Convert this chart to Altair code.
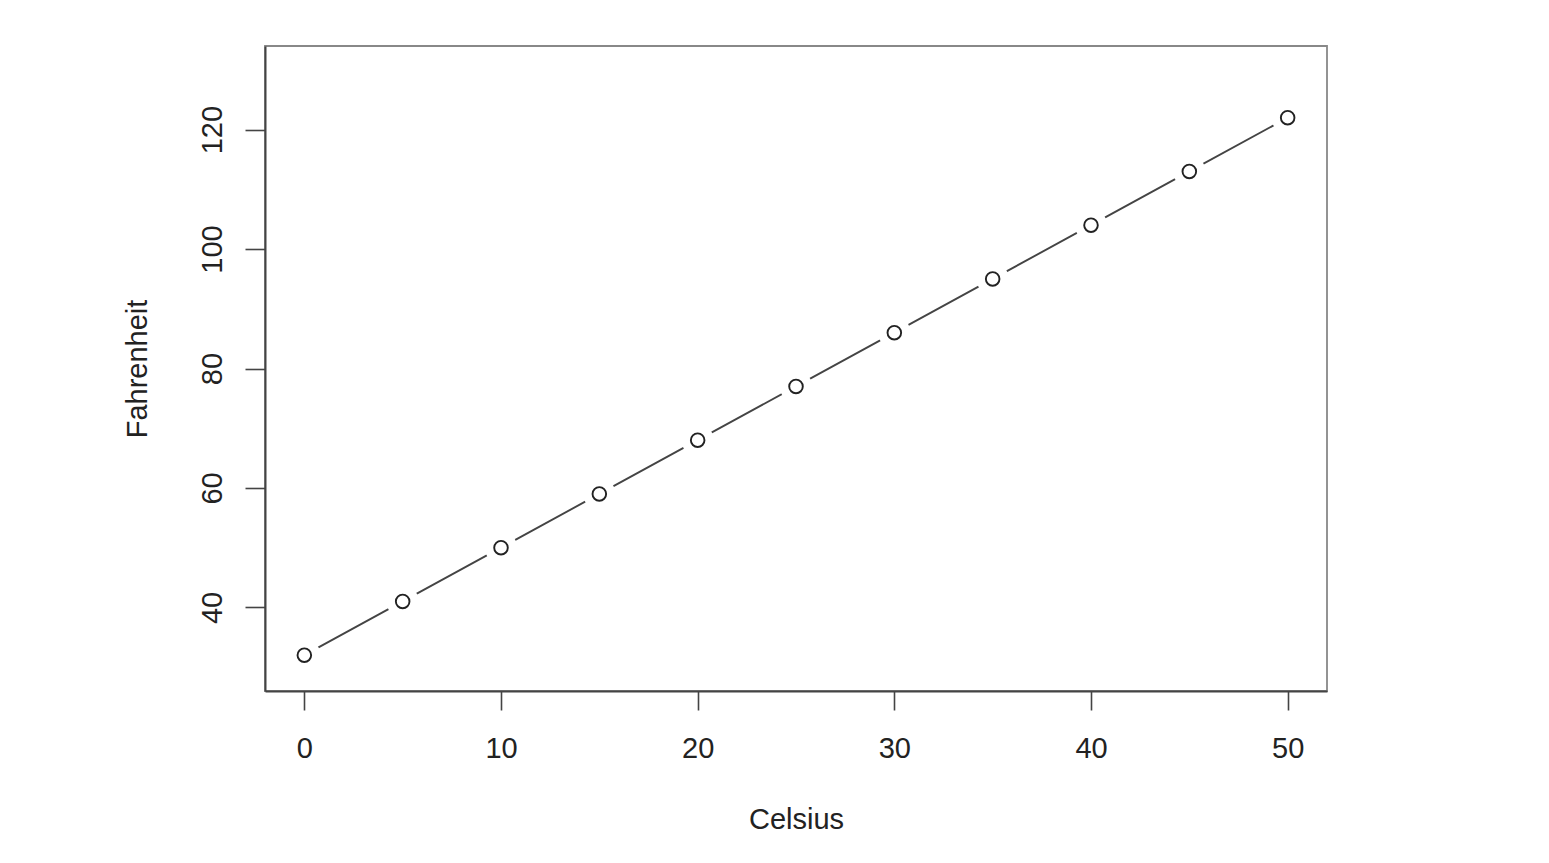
import altair as alt
import pandas as pd

celsius = [0, 5, 10, 15, 20, 25, 30, 35, 40, 45, 50]
fahrenheit = [32, 41, 50, 59, 68, 77, 86, 95, 104, 113, 122]
x_ticks = [0, 10, 20, 30, 40, 50]
y_ticks = [40, 60, 80, 100, 120]

df = pd.DataFrame({"Celsius": celsius, "Fahrenheit": fahrenheit})

font = "Liberation Sans"

x_enc = alt.X(
    "Celsius:Q",
    title="Celsius",
    scale=alt.Scale(domain=[-2, 52], nice=False, zero=False),
    axis=alt.Axis(
        values=x_ticks, grid=False, tickSize=19, tickWidth=1.6, tickColor="#444",
        domainColor="#444", domainWidth=2, labelFontSize=29, labelFont=font,
        labelColor="#222", labelPadding=24, titleFontSize=29, titleFont=font,
        titleFontWeight="normal", titleColor="#222", titlePadding=42,
        labelFlush=False,
    ),
)
y_enc = alt.Y(
    "Fahrenheit:Q",
    title="Fahrenheit",
    scale=alt.Scale(domain=[26, 134], nice=False, zero=False),
    axis=alt.Axis(
        values=y_ticks, grid=False, tickSize=20, tickWidth=1.6, tickColor="#444",
        domainColor="#444", domainWidth=2, labelFontSize=29, labelFont=font,
        labelColor="#222", labelAngle=270, labelAlign="center",
        labelBaseline="alphabetic", labelPadding=24, titleFontSize=29,
        titleFont=font, titleFontWeight="normal", titleColor="#222",
        titlePadding=46, labelFlush=False,
    ),
)

base = alt.Chart(df).encode(x=x_enc, y=y_enc)

line = base.mark_line(color="#444", strokeWidth=1.9)
gaps = base.mark_point(shape="circle", size=1050, filled=True, fill="white",
                       opacity=1, strokeWidth=0)
points = base.mark_point(shape="circle", size=185, filled=True, fill="white",
                         stroke="#222", strokeWidth=1.9, opacity=1)

chart = (
    alt.layer(line, gaps, points)
    .properties(
        width=1062,
        height=645,
        autosize=alt.AutoSizeParams(type="none"),
        padding={"left": 257, "top": 38, "right": 200, "bottom": 160},
        background="white",
    )
    .configure_view(stroke="#888", strokeWidth=1.8)
)

chart.save("out.html", embed_options={"renderer": "svg", "actions": False})
